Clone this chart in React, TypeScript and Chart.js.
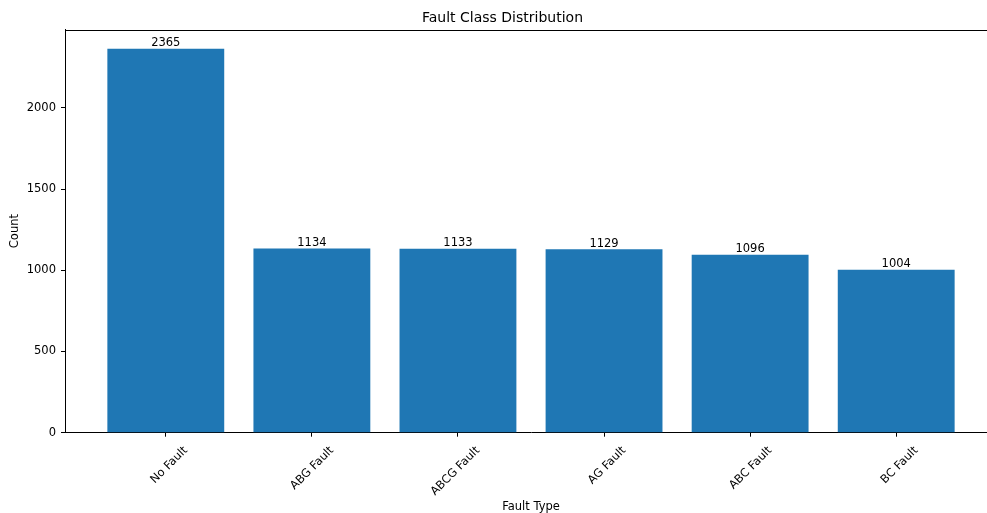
import React, { useEffect, useRef } from "react";
import { Chart, registerables } from "chart.js";

Chart.register(...registerables);

const categories = ["No Fault", "ABG Fault", "ABCG Fault", "AG Fault", "ABC Fault", "BC Fault"];
const counts = [2365, 1134, 1133, 1129, 1096, 1004];
const yTicks = [0, 500, 1000, 1500, 2000];

const FONT = "'DejaVu Sans', sans-serif";
const BAR_COLOR = "#1f77b4";

const barLabels = {
  id: "barLabels",
  afterDatasetsDraw(chart: any) {
    const ctx = chart.ctx;
    const meta = chart.getDatasetMeta(0);
    ctx.save();
    ctx.font = `11.5px ${FONT}`;
    ctx.fillStyle = "#000";
    ctx.textAlign = "center";
    ctx.textBaseline = "alphabetic";
    meta.data.forEach((el: any, i: number) => {
      ctx.fillText(String(counts[i]), el.x, el.y - 2.8);
    });
    ctx.restore();
  },
};

const frame = {
  id: "frame",
  afterDraw(chart: any) {
    const { ctx, chartArea } = chart;
    ctx.save();
    ctx.strokeStyle = "#000";
    ctx.lineWidth = 1;
    ctx.beginPath();
    ctx.moveTo(chartArea.left, Math.round(chartArea.top) + 0.5);
    ctx.lineTo(chartArea.right, Math.round(chartArea.top) + 0.5);
    ctx.stroke();
    ctx.restore();
  },
};

export default function App() {
  const ref = useRef<HTMLCanvasElement>(null);
  useEffect(() => {
    document.documentElement.style.overflow = "hidden";
    document.body.style.overflow = "hidden";
    if (!ref.current) return;
    const chart = new Chart(ref.current, {
      type: "bar",
      data: {
        datasets: [
          {
            data: counts.map((v, i) => ({ x: i, y: v })),
            backgroundColor: BAR_COLOR,
            borderWidth: 0,
            categoryPercentage: 0.8,
            barPercentage: 1.0,
          },
        ],
      },
      plugins: [barLabels, frame],
      options: {
        animation: false,
        responsive: false,
        maintainAspectRatio: false,
        layout: { padding: { left: 0, right: 0, top: 0, bottom: 0 } },
        plugins: {
          legend: { display: false },
          tooltip: { enabled: false },
          title: {
            display: true,
            text: "Fault Class Distribution",
            color: "#000",
            font: { family: FONT, size: 14, weight: "normal" },
            padding: { top: 1.5, bottom: 3.2 },
          },
        },
        scales: {
          x: {
            type: "linear",
            min: -0.69,
            max: 5.69,
            offset: false,
            afterFit: (s: any) => {
              s.height = 80.3;
              s.paddingLeft = 0;
              s.paddingRight = 0;
            },
            border: { display: true, color: "#000", width: 1 },
            grid: {
              display: true,
              offset: false,
              drawOnChartArea: false,
              drawTicks: true,
              tickLength: 4,
              color: "#000",
            },
            ticks: {
              stepSize: 1,
              includeBounds: false,
              autoSkip: false,
              minRotation: 45,
              maxRotation: 45,
              labelOffset: 20,
              padding: 7,
              color: "#000",
              font: { family: FONT, size: 11.5 },
              callback: (v: any) => {
                const n = Number(v);
                return Number.isInteger(n) && categories[n] !== undefined ? categories[n] : "";
              },
            },
            title: {
              display: true,
              text: "Fault Type",
              color: "#000",
              font: { family: FONT, size: 11.5 },
              padding: { top: 0, bottom: -0.5 },
            },
          },
          y: {
            type: "linear",
            min: 0,
            max: 2483,
            afterFit: (s: any) => {
              s.width = 57;
              s.paddingTop = 0;
              s.paddingBottom = 0;
            },
            afterBuildTicks: (s: any) => {
              s.ticks = yTicks.map((v) => ({ value: v }));
            },
            border: { display: true, color: "#000", width: 1 },
            grid: {
              display: true,
              offset: false,
              drawOnChartArea: false,
              drawTicks: true,
              tickLength: 4,
              color: "#000",
            },
            ticks: {
              stepSize: 500,
              includeBounds: false,
              padding: 5,
              color: "#000",
              font: { family: FONT, size: 11.5 },
              callback: (v: any) => String(v),
            },
            title: {
              display: true,
              text: "Count",
              color: "#000",
              font: { family: FONT, size: 11.5 },
              padding: { top: 0, bottom: 0 },
            },
          },
        },
      },
    });
    return () => chart.destroy();
  }, []);

  return (
    <div style={{ position: "absolute", left: 8, top: 8, width: 989, height: 505 }}>
      <canvas ref={ref} width={989} height={505} style={{ display: "block", width: 989, height: 505 }} />
    </div>
  );
}
